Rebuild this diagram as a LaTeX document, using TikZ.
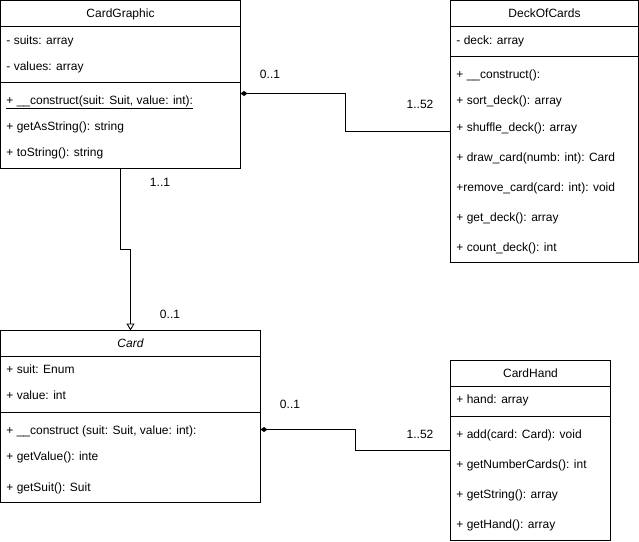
\documentclass[tikz,border=0pt]{standalone}
\usepackage{fontspec}
\setmainfont{Liberation Sans}
\usetikzlibrary{arrows.meta,calc}

\begin{document}
\begin{tikzpicture}[
        x=1pt, y=-1pt,
        line width=0.9pt,
        font=\fontsize{12}{14}\selectfont,
        classbox/.style={draw=black,fill=white},
        member/.style={anchor=base west,inner sep=0pt},
        title/.style={anchor=base,inner sep=0pt},
        mult/.style={inner sep=0pt},
        owns/.style={{Diamond[length=7pt,width=5pt]}-},
        inherits/.style={-{Triangle[open,length=7pt,width=8pt]}},
      ]

      \useasboundingbox (0,0) rectangle (639,541);

      % class boxes
      \draw[classbox] (0.5,0.5) rectangle (240.5,168.5);
      \draw (0.5,26.5) -- (240.5,26.5);
      \draw (0.5,82.5) -- (240.5,82.5);

      \draw[classbox] (450.5,0.5) rectangle (638.5,262.5);
      \draw (450.5,26.5) -- (638.5,26.5);
      \draw (450.5,56.5) -- (638.5,56.5);

      \draw[classbox] (0.5,330.5) rectangle (260.5,502.5);
      \draw (0.5,356.5) -- (260.5,356.5);
      \draw (0.5,412.5) -- (260.5,412.5);

      \draw[classbox] (450.5,360.5) rectangle (610.5,540.5);
      \draw (450.5,386.5) -- (610.5,386.5);
      \draw (450.5,416.5) -- (610.5,416.5);

      % CardGraphic
      \node[title] (gfxname) at (120.5,17.5) {CardGraphic};
      \node[member] (gfxattra) at (6,44.5) {- suits: array};
      \node[member] (gfxattrb) at (6,70.5) {- values: array};
      \node[member] (gfxopa) at (6,104.5) {\underline{+ \_\_construct(suit: Suit, value: int):}};
      \node[member] (gfxopb) at (6,130.5) {+ getAsString(): string};
      \node[member] (gfxopc) at (6,156.5) {+ toString(): string};

      % DeckOfCards
      \node[title] (deckname) at (544.5,17.5) {DeckOfCards};
      \node[member] (deckattra) at (456,44.5) {- deck: array};
      \node[member] (deckopa) at (456,78) {+ \_\_construct():};
      \node[member] (deckopb) at (456,104) {+ sort\_deck(): array};
      \node[member] (deckopc) at (456,131) {+ shuffle\_deck(): array};
      \node[member] (deckopd) at (456,161) {+ draw\_card(numb: int): Card};
      \node[member] (deckope) at (456,191) {+remove\_card(card: int): void};
      \node[member] (deckopf) at (456,221) {+ get\_deck(): array};
      \node[member] (deckopg) at (456,251) {+ count\_deck(): int};

      % Card
      \node[title] (cardname) at (130.5,347.5) {\itshape Card};
      \node[member] (cardattra) at (6,373.5) {+ suit: Enum};
      \node[member] (cardattrb) at (6,399.5) {+ value: int};
      \node[member] (cardopa) at (6,434.5) {+ \_\_construct (suit: Suit, value: int):};
      \node[member] (cardopb) at (6,460.5) {+ getValue(): inte};
      \node[member] (cardopc) at (6,491.5) {+ getSuit(): Suit};

      % CardHand
      \node[title] (handname) at (530.5,377.5) {CardHand};
      \node[member] (handattra) at (456,403.5) {+ hand: array};
      \node[member] (handopa) at (456,438.5) {+ add(card: Card): void};
      \node[member] (handopb) at (456,468.5) {+ getNumberCards(): int};
      \node[member] (handopc) at (456,498.5) {+ getString(): array};
      \node[member] (handopd) at (456,528.5) {+ getHand(): array};

      % connectors
      \coordinate (gfxout) at (240.5,93.5);
      \coordinate (deckin) at (450.5,131.5);
      \coordinate (gfxdown) at (120.5,168.5);
      \coordinate (cardup) at (130.5,330.5);
      \coordinate (cardout) at (260.5,429.5);
      \coordinate (handin) at (450.5,450.5);

      \draw[owns] (gfxout) -| ($(gfxout)!0.5!(deckin)$) |- (deckin);
      \draw[inherits] (gfxdown) |- ($(gfxdown)!0.5!(cardup)$) -| (cardup);
      \draw[owns] (cardout) -| ($(cardout)!0.5!(handin)$) |- (handin);

      \node[mult] (gfxmult) at (270,74) {0..1};
      \node[mult] (deckmult) at (420,104) {1..52};
      \node[mult] (gfxbase) at (160,182) {1..1};
      \node[mult] (cardbase) at (170,314) {0..1};
      \node[mult] (cardmult) at (290,404) {0..1};
      \node[mult] (handmult) at (420,434) {1..52};

    \end{tikzpicture}
\end{document}
